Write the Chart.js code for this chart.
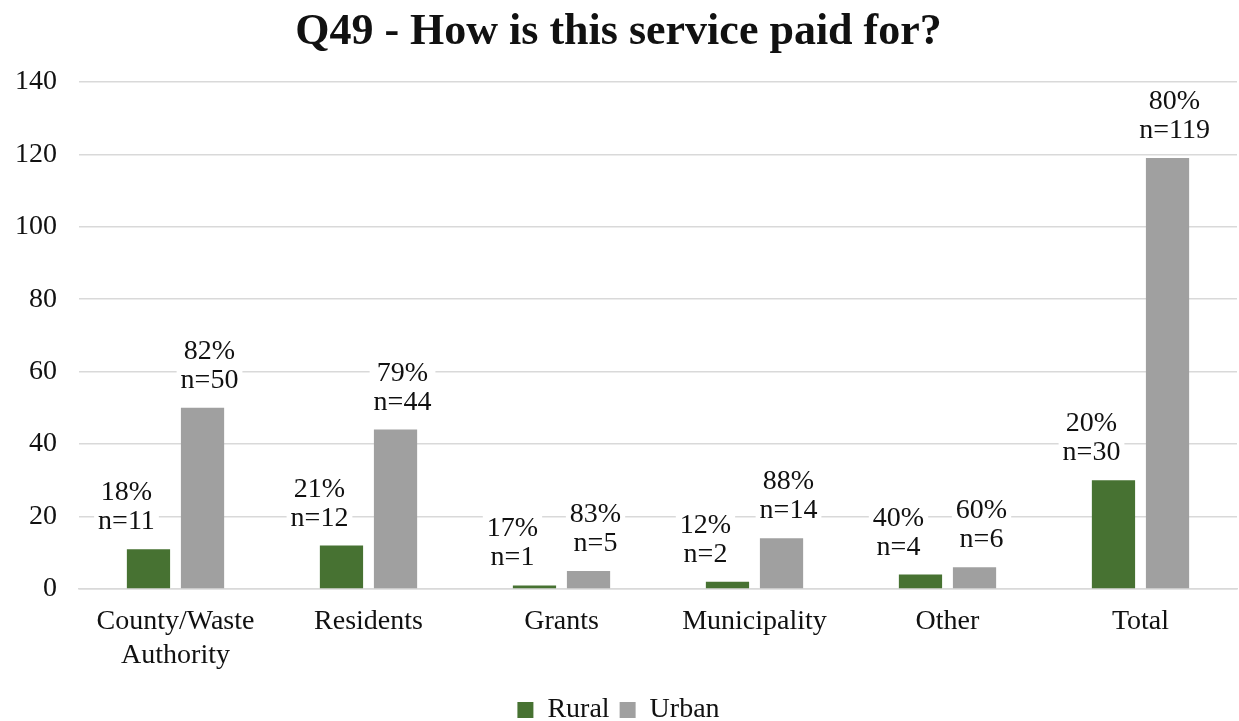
<!DOCTYPE html>
<html>
<head>
<meta charset="utf-8">
<title>Q49 - How is this service paid for?</title>
<script src="https://cdn.jsdelivr.net/npm/chart.js@4.4.1/dist/chart.umd.min.js"></script>
<style>
	html, body { margin: 0; padding: 0; background: #ffffff; }
	#wrap { width: 1239px; height: 721px; }
</style>
</head>
<body>
<div id="wrap"><canvas id="chart" width="1239" height="721"></canvas></div>
<script>
const categories = [['County/Waste', 'Authority'], 'Residents', 'Grants', 'Municipality', 'Other', 'Total'];
const ruralCounts = [11, 12, 1, 2, 4, 30];
const urbanCounts = [50, 44, 5, 14, 6, 119];
const ruralShare = [18, 21, 17, 12, 40, 20];
const urbanShare = [82, 79, 83, 88, 60, 80];
const yTicks = [0, 20, 40, 60, 80, 100, 120, 140];

const SERIF = '"Liberation Serif", "Times New Roman", serif';
const INK = '#111111';

// two-line "xx% / n=yy" labels sitting above each bar on a white plate
const barLabels = {
	id: 'barLabels',
	afterDatasetsDraw(chart, args, opts) {
		const ctx = chart.ctx;
		ctx.save();
		ctx.font = '28px ' + SERIF;
		ctx.textAlign = 'center';
		ctx.textBaseline = 'alphabetic';
		chart.data.datasets.forEach((ds, di) => {
			const meta = chart.getDatasetMeta(di);
			const shares = di === 0 ? ruralShare : urbanShare;
			const dx = opts.offsets[di];
			meta.data.forEach((bar, i) => {
				const lines = [shares[i] + '%', 'n=' + ds.data[i]];
				const cx = bar.x + dx;
				const base2 = bar.y - opts.gap;
				const base1 = base2 - opts.lineHeight;
				const w = Math.max(...lines.map(t => ctx.measureText(t).width));
				ctx.fillStyle = '#ffffff';
				ctx.fillRect(cx - w / 2 - 4, base1 - 24, w + 8, opts.lineHeight + 32);
				ctx.fillStyle = INK;
				ctx.fillText(lines[0], cx, base1);
				ctx.fillText(lines[1], cx, base2);
			});
		});
		ctx.restore();
	}
};

new Chart(document.getElementById('chart'), {
	type: 'bar',
	data: {
		labels: categories,
		datasets: [
			{
				label: 'Rural',
				data: ruralCounts,
				backgroundColor: '#477232',
				categoryPercentage: 0.56,
				barPercentage: 0.8,
			},
			{
				label: 'Urban',
				data: urbanCounts,
				backgroundColor: '#a0a0a0',
				categoryPercentage: 0.56,
				barPercentage: 0.8,
			}
		]
	},
	options: {
		responsive: false,
		animation: false,
		devicePixelRatio: 1,
		// legend sits low, nearly on the bottom edge
		layout: { padding: { left: 0, right: 2, top: 0, bottom: -13 } },
		plugins: {
			title: {
				display: true,
				text: 'Q49 - How is this service paid for?',
				color: INK,
				font: { family: SERIF, size: 44, weight: 'bold' },
				padding: { top: 6, bottom: 23 }
			},
			legend: {
				position: 'bottom',
				labels: {
					color: INK,
					font: { family: SERIF, size: 28 },
					boxWidth: 16,
					boxHeight: 16,
					padding: 10
				}
			},
			tooltip: { enabled: false },
			barLabels: { offsets: [-22, 7], gap: 20, lineHeight: 29 }
		},
		scales: {
			x: {
				grid: { display: false, drawTicks: false },
				border: { color: '#d9d9d9', width: 1.5 },
				afterFit: (scale) => { scale.height = 97; },
				ticks: {
					color: INK,
					padding: 16,
					maxRotation: 0,
					autoSkip: false,
					font: { family: SERIF, size: 28, lineHeight: 1.2 }
				}
			},
			y: {
				min: 0,
				max: 140,
				afterBuildTicks: (scale) => { scale.ticks = yTicks.map(v => ({ value: v })); },
				afterFit: (scale) => { scale.width = 79; },
				grid: { color: '#d9d9d9', lineWidth: 1.5, drawTicks: false },
				border: { display: false },
				ticks: {
					color: INK,
					padding: 22,
					font: { family: SERIF, size: 28 }
				}
			}
		}
	},
	plugins: [barLabels]
});
</script>
</body>
</html>
